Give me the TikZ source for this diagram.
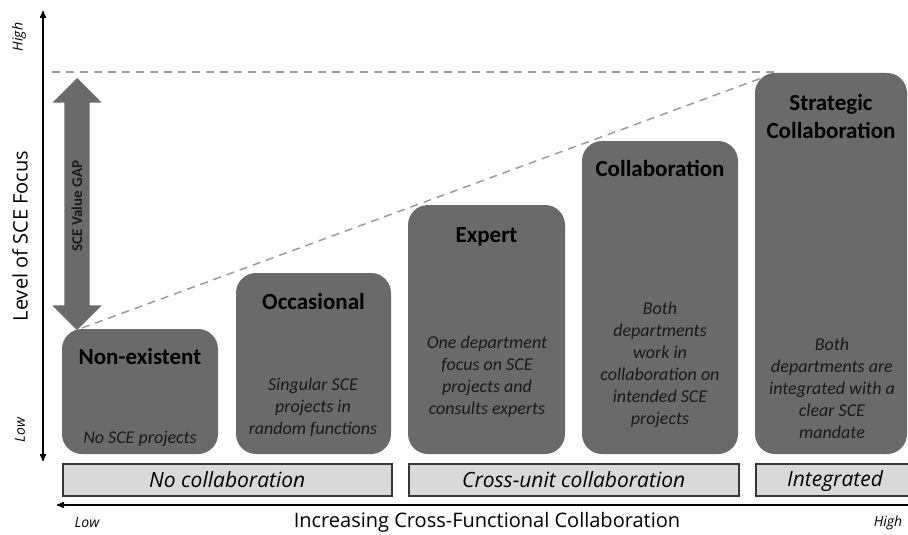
\documentclass[tikz,border=0pt]{standalone}
\usepackage{fontspec}
\setmainfont{Carlito}
\newfontfamily\axisfont{Open Sans}
\usepackage{xcolor}
\usetikzlibrary{positioning}
\usetikzlibrary{arrows}
\usetikzlibrary{shapes.arrows}

\definecolor{stagegray}{RGB}{106,106,106}
\definecolor{barlight}{RGB}{217,217,217}
\definecolor{bardark}{RGB}{55,55,55}
\definecolor{dashgray}{RGB}{155,155,155}

\begin{document}
\begin{tikzpicture}[x=1pt,y=-1pt,>=stealth',
    stage node/.style={fill=stagegray,rounded corners=20pt,inner sep=0pt,outer sep=0pt,anchor=south west},
    bar node/.style={draw=bardark,line width=1.5pt,fill=barlight,inner sep=0pt,anchor=north west,
                     minimum height=32pt,font=\axisfont\itshape\fontsize{21}{24}\selectfont},
    title text/.style={font=\bfseries\fontsize{23}{28}\selectfont,align=center,inner sep=0pt},
    body text/.style={font=\itshape\fontsize{18}{22}\selectfont,align=center,inner sep=0pt,text=black!90},
    axis/.style={line width=1.5pt,black},
    gap line/.style={dashgray,line width=1.5pt,dash pattern=on 8pt off 6pt},
    tick text/.style={font=\axisfont\itshape\fontsize{14}{16}\selectfont,inner sep=0pt},
    axis text/.style={font=\axisfont\fontsize{20}{24}\selectfont,inner sep=0pt}]

  \useasboundingbox (0,0) rectangle (908,535);

  % value gap guides
  \coordinate (gaptop) at (52,72);
  \coordinate (peak) at (778,72);
  \coordinate (gapbase) at (82,328);
  \draw[gap line] (gaptop) -- (peak);
  \draw[gap line] (gapbase) -- (peak);

  % stages
  \node[stage node,minimum width=156pt,minimum height=125pt] (none) at (62,454) {};
  \node[stage node,minimum width=155pt,minimum height=181pt] (occa) at (236,454) {};
  \node[stage node,minimum width=157pt,minimum height=249pt] (expert) at (408,454) {};
  \node[stage node,minimum width=156pt,minimum height=313pt] (collab) at (582,454) {};
  \node[stage node,minimum width=152pt,minimum height=381pt] (strat) at (755,454) {};

  \node[title text,below=19pt of none.north] (noneT) {Non-existent};
  \node[title text,below=20pt of occa.north] (occaT) {Occasional};
  \node[title text,below=22pt of expert.north] (expertT) {Expert};
  \node[title text,below=19pt of collab.north] (collabT) {Collaboration};
  \node[title text,below=21pt of strat.north] (stratT) {Strategic\\Collaboration};

  \node[body text] (noneB) at (140,439) {No SCE projects};
  \node[body text] (occaB) at (313,407) {Singular SCE\\projects in\\random functions};
  \node[body text] (expertB) at (487,377) {One department\\focus on SCE\\projects and\\consults experts};
  \node[body text] (collabB) at (660,365) {Both\\departments\\work in\\collaboration on\\intended SCE\\projects};
  \node[body text] (stratB) at (832,388) {Both\\departments are\\integrated with a\\clear SCE\\mandate};

  % gap arrow
  \node[double arrow,fill=stagegray,rotate=90,minimum height=252pt,
        inner xsep=0pt,inner ysep=12.5pt,double arrow head extend=12pt] (gap) at (77,204) {};
  \node[font=\bfseries\fontsize{15}{17}\selectfont,text=black!90,rotate=90,inner sep=0pt] (gapT) at (77,206) {SCE Value GAP};

  % collaboration bars
  \node[bar node,minimum width=329pt] (nocollab) at (62,463) {No collaboration};
  \node[bar node,minimum width=330pt] (crossunit) at (408,463) {Cross-unit collaboration};
  \node[bar node,minimum width=170pt] (integ) at (755,463) {};
  \node[font=\axisfont\itshape\fontsize{21}{24}\selectfont,inner sep=0pt,anchor=base] (integT) at (835,486) {Integrated};

  % axes
  \coordinate (ytop) at (43,11);
  \coordinate (ybot) at (43,461);
  \draw[axis,<->] (ybot) -- (ytop);
  \coordinate (xright) at (912,505);
  \coordinate (xleft) at (57,505);
  \draw[axis,->] (xright) -- (xleft);

  \node[axis text,rotate=90] (ylab) at (20,236) {Level of SCE Focus};
  \node[axis text] (xlab) at (487,522) {Increasing Cross-Functional Collaboration};
  \node[tick text,rotate=90] (yhigh) at (19,37) {High};
  \node[tick text,rotate=90] (ylow) at (20,430) {Low};
  \node[tick text] (xlow) at (87,523) {Low};
  \node[tick text] (xhigh) at (888,523) {High};
\end{tikzpicture}
\end{document}
